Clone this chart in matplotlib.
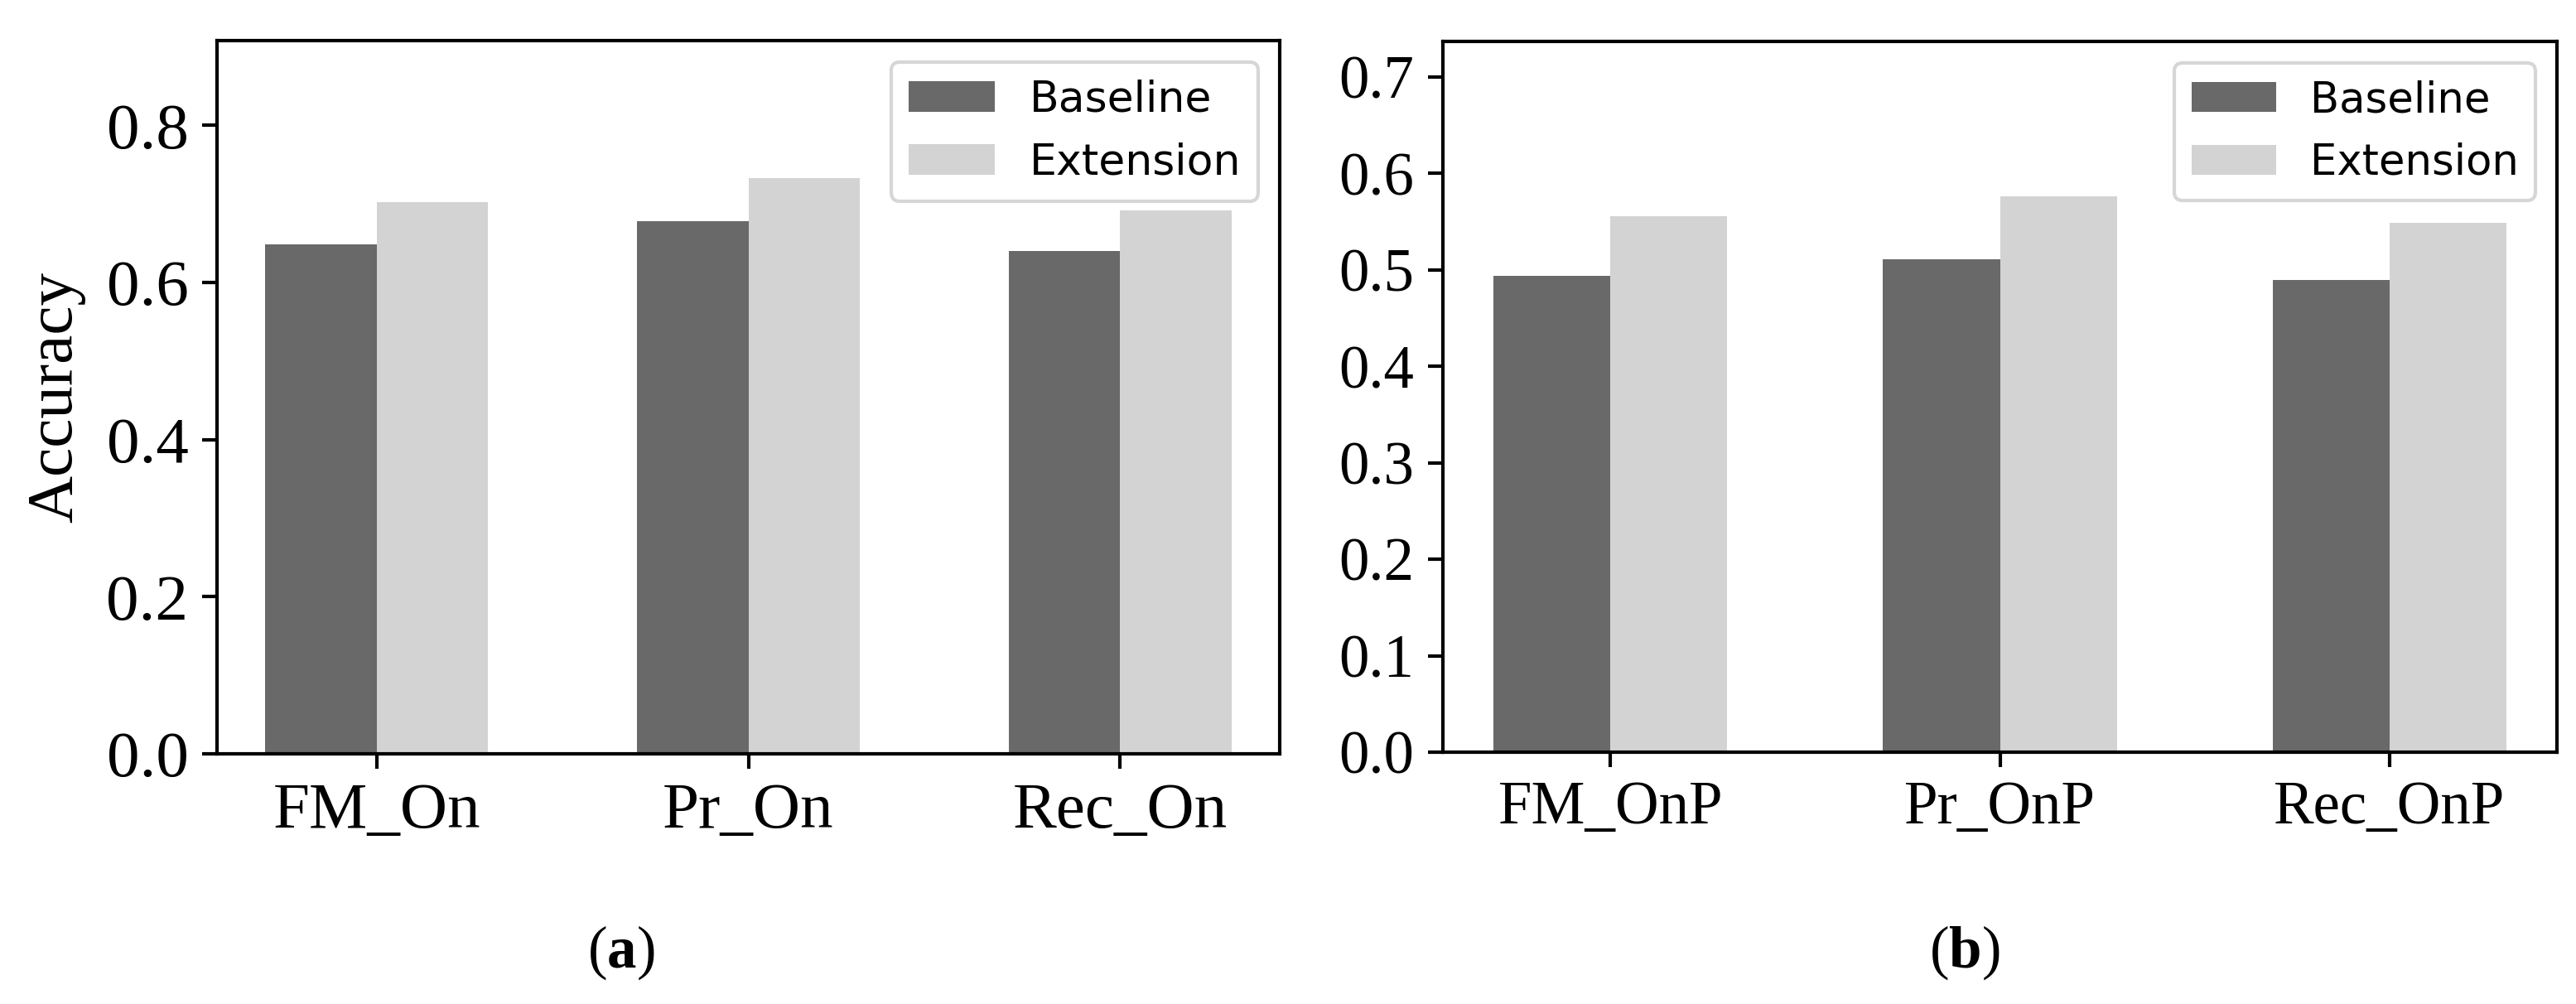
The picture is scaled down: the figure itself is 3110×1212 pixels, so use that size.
import matplotlib
matplotlib.use("Agg")
import matplotlib.pyplot as plt
import numpy as np

categories_a = ["FM_On", "Pr_On", "Rec_On"]
baseline_a = [0.649, 0.678, 0.640]
extension_a = [0.702, 0.733, 0.692]

categories_b = ["FM_OnP", "Pr_OnP", "Rec_OnP"]
baseline_b = [0.494, 0.511, 0.490]
extension_b = [0.556, 0.576, 0.549]

yticks_a = [0.0, 0.2, 0.4, 0.6, 0.8]
yticks_b = [0.0, 0.1, 0.2, 0.3, 0.4, 0.5, 0.6, 0.7]

plt.rcParams['mathtext.fontset'] = 'custom'
plt.rcParams['mathtext.rm'] = 'Liberation Serif'
plt.rcParams['mathtext.bf'] = 'Liberation Serif:bold'

DPI = 300
fig = plt.figure(figsize=(3110 / DPI, 1212 / DPI), dpi=DPI)

serif = 'Liberation Serif'
W, H = 3110, 1212


def panel(rect, cats, base, ext, yticks, ylim, tick_fs, leg_fs, ylabel=None):
    ax = fig.add_axes(rect)
    x = np.arange(len(cats))
    w = 0.3
    ax.bar(x - w / 2, base, w, color='dimgray', label='Baseline')
    ax.bar(x + w / 2, ext, w, color='lightgray', label='Extension')
    ax.set_xticks(x)
    ax.set_xticklabels(cats, fontfamily=serif, fontsize=tick_fs)
    ax.set_yticks(yticks)
    ax.set_yticklabels([f"{t:.1f}" for t in yticks], fontfamily=serif, fontsize=tick_fs)
    ax.set_ylim(*ylim)
    for s in ax.spines.values():
        s.set_linewidth(1.0)
        s.set_color('black')
    ax.tick_params(length=4.3, width=1.0, pad=4)
    if ylabel:
        ax.set_ylabel(ylabel, fontfamily=serif, fontsize=tick_fs, labelpad=6)
    ax.legend(loc='upper right', prop={'family': 'DejaVu Sans', 'size': leg_fs})
    return ax


def rect(x0, y0, x1, y1):
    return [x0 / W, 1 - y1 / H, (x1 - x0) / W, (y1 - y0) / H]


panel(rect(262, 49, 1545, 910), categories_a, baseline_a, extension_a,
      yticks_a, (0, 0.908), 19, 12.5, ylabel='Accuracy')
panel(rect(1742, 50, 3087, 908), categories_b, baseline_b, extension_b,
      yticks_b, (0, 0.737), 17.5, 12.3)

fig.text(750 / W, 1 - 1150 / H, r'($\mathbf{a}$)', ha='center', va='center',
         fontsize=17, fontfamily=serif)
fig.text(2372 / W, 1 - 1150 / H, r'($\mathbf{b}$)', ha='center', va='center',
         fontsize=17, fontfamily=serif)

fig.savefig('out.png', dpi=DPI)
